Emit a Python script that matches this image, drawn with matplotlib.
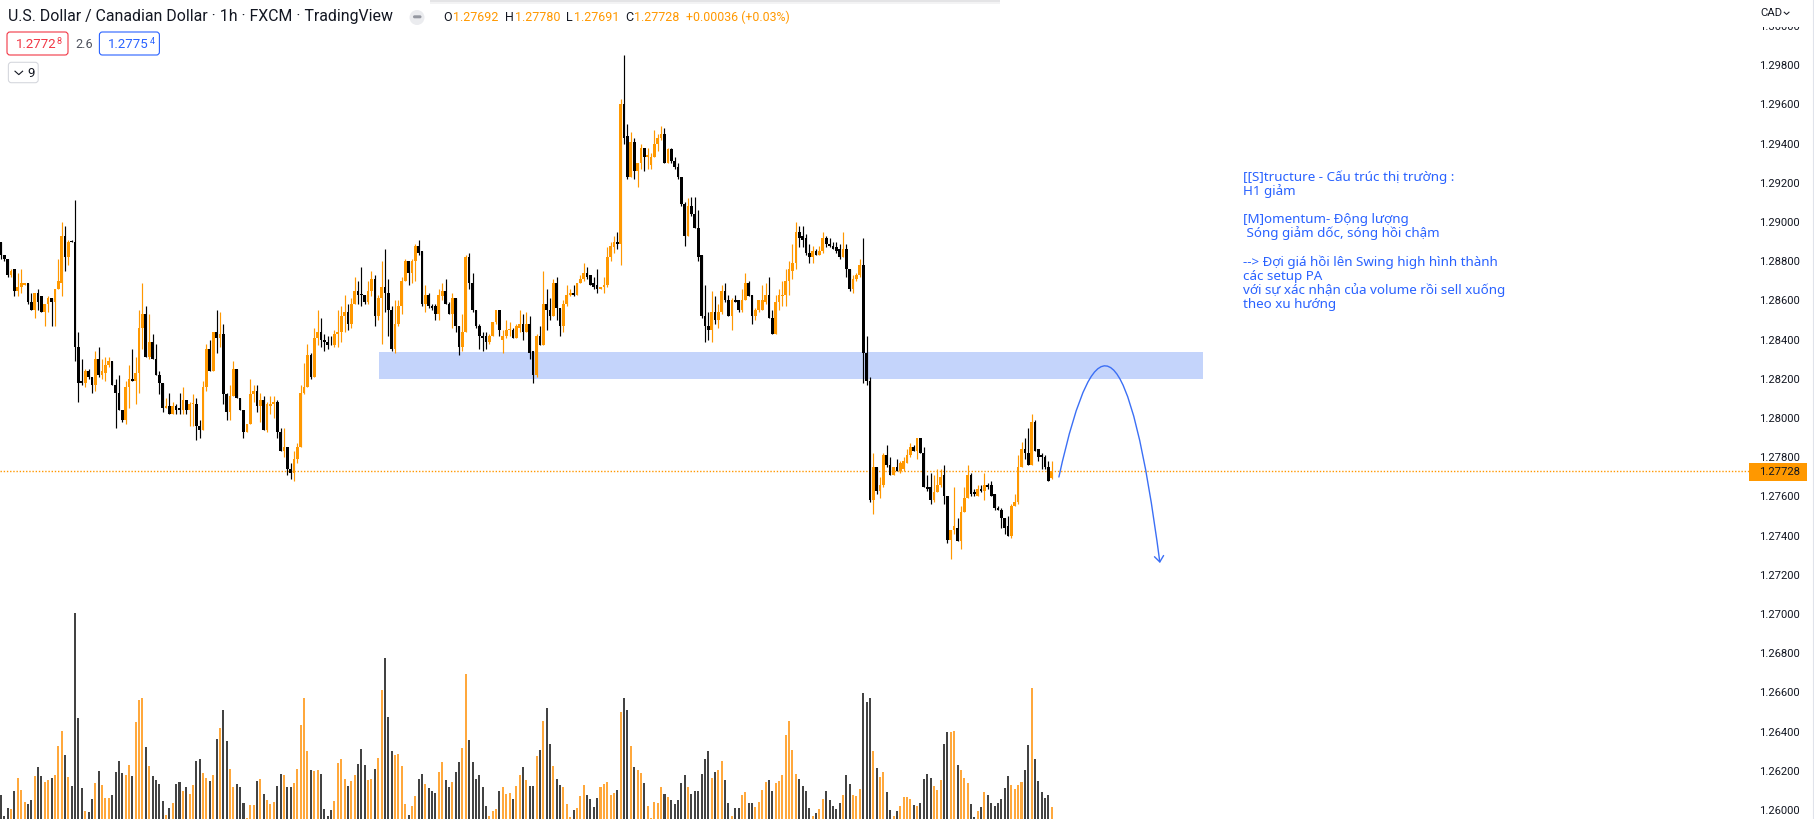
import numpy as np
import matplotlib
matplotlib.use("Agg")
import matplotlib.pyplot as plt
from matplotlib.patches import Rectangle, FancyBboxPatch, FancyArrowPatch, Circle
from matplotlib.path import Path
from matplotlib.transforms import IdentityTransform
from matplotlib.lines import Line2D

plt.rcParams['font.family'] = ['Roboto', 'DejaVu Sans']

# ---------------- data (USD/CAD, 1h, FXCM) ----------------
opens = [
 1.2890, 1.2883, 1.2881, 1.2873, 1.2876, 1.2865, 1.2867, 1.2868, 1.2869, 1.2859,
 1.2855, 1.2864, 1.2862, 1.2854, 1.2858, 1.2861, 1.2859, 1.2866, 1.2869, 1.2893,
 1.2882, 1.28905, 1.2890, 1.2836, 1.2819, 1.2818, 1.2824, 1.2821, 1.2817, 1.2830,
 1.2822, 1.2823, 1.2827, 1.2829, 1.2817, 1.2813, 1.2804, 1.2799, 1.2816, 1.2820,
 1.2819, 1.2823, 1.2846, 1.2853, 1.2831, 1.2839, 1.2830, 1.2822, 1.2818, 1.2805,
 1.2806, 1.2802, 1.2806, 1.2805, 1.2804, 1.2809, 1.2804, 1.2807, 1.2807, 1.2796,
 1.2794, 1.2816, 1.2835, 1.2824, 1.2844, 1.2841, 1.2843, 1.2812, 1.2803, 1.2811,
 1.2825, 1.2810, 1.2804, 1.2793, 1.2797, 1.2812, 1.2814, 1.2806, 1.2809, 1.2794,
 1.2806, 1.2807, 1.2808, 1.2793, 1.2783, 1.2785, 1.2774, 1.2772, 1.2779, 1.2785,
 1.2813, 1.2816, 1.2832, 1.2821, 1.2841, 1.2844, 1.2840, 1.2839, 1.28375, 1.2837,
 1.2843, 1.2844, 1.2852, 1.2854, 1.2848, 1.2858, 1.2865, 1.28635, 1.2863, 1.2859,
 1.2865, 1.2871, 1.2852, 1.2861, 1.2867, 1.2864, 1.2855, 1.2835, 1.2848, 1.2857,
 1.2870, 1.2880, 1.2874, 1.2880, 1.2888, 1.2885, 1.2858, 1.2863, 1.2857, 1.2857,
 1.2853, 1.2862, 1.2865, 1.2858, 1.2853, 1.2861, 1.2847, 1.2836, 1.2844, 1.2882,
 1.2869, 1.2855, 1.2847, 1.2842, 1.2842, 1.2839, 1.2842, 1.2849, 1.2855, 1.2840,
 1.2842, 1.2845, 1.2845, 1.2841, 1.2846, 1.2848, 1.2844, 1.2848, 1.2834, 1.2822,
 1.2842, 1.2837, 1.2858, 1.2855, 1.2852, 1.2869, 1.2856, 1.2847, 1.2858, 1.2863,
 1.2864, 1.2863, 1.2869, 1.2871, 1.2874, 1.2873, 1.2869, 1.2868, 1.2866, 1.2867,
 1.2868, 1.2882, 1.2887, 1.2890, 1.2889, 1.2960, 1.2944, 1.2923, 1.2941, 1.2926,
 1.2930, 1.2938, 1.2933, 1.2929, 1.2933, 1.2940, 1.2943, 1.2945, 1.2930, 1.2937,
 1.2931, 1.2928, 1.2923, 1.2909, 1.2893, 1.2908, 1.2904, 1.2897, 1.2883, 1.2852,
 1.2847, 1.2845, 1.2854, 1.2850, 1.2854, 1.2865, 1.2860, 1.2852, 1.2860, 1.2860,
 1.2855, 1.2860, 1.2869, 1.2863, 1.2852, 1.2855, 1.2855, 1.2859, 1.2863, 1.2851,
 1.2843, 1.2859, 1.2862, 1.2863, 1.2870, 1.2875, 1.2879, 1.2895, 1.2893, 1.2892,
 1.2884, 1.2882, 1.2885, 1.2883, 1.2885, 1.2892, 1.2889, 1.2888, 1.2887, 1.2886,
 1.2882, 1.2886, 1.2876, 1.2866, 1.2871, 1.2873, 1.2878, 1.2833, 1.2819, 1.2758,
 1.2775, 1.2763, 1.2766, 1.2781, 1.2776, 1.2771, 1.2775, 1.2773, 1.2774, 1.2777,
 1.2781, 1.2785, 1.2783, 1.2790, 1.2782, 1.2765, 1.2765, 1.2758, 1.2762, 1.2766,
 1.2771, 1.2760, 1.2738, 1.2743, 1.2744, 1.2737, 1.2752, 1.2759, 1.2771, 1.2762,
 1.2760, 1.2764, 1.2763, 1.2766, 1.2766, 1.2761, 1.2754, 1.2753, 1.2749, 1.2745,
 1.2740, 1.2755, 1.2757, 1.2775, 1.2784, 1.2782, 1.2776, 1.2798, 1.2784, 1.2781,
 1.2780, 1.2775, 1.27692]

highs = [
 1.2890, 1.2883, 1.2881, 1.2876, 1.2876, 1.2874, 1.2876, 1.2869, 1.2869, 1.2864,
 1.2864, 1.2866, 1.2862, 1.2858, 1.2862, 1.2861, 1.2866, 1.2881, 1.2900, 1.2898,
 1.2891, 1.2891, 1.2911, 1.2844, 1.2830, 1.2825, 1.2825, 1.2821, 1.2834, 1.2836,
 1.2830, 1.2831, 1.2831, 1.2829, 1.2820, 1.2822, 1.2804, 1.2819, 1.2827, 1.2835,
 1.2831, 1.2855, 1.2869, 1.2857, 1.2853, 1.2843, 1.2838, 1.2824, 1.2818, 1.2810,
 1.2813, 1.2808, 1.2807, 1.2813, 1.2816, 1.2809, 1.2808, 1.2812, 1.2810, 1.2799,
 1.2819, 1.2838, 1.2840, 1.2844, 1.2855, 1.2854, 1.2848, 1.2813, 1.2817, 1.2829,
 1.2825, 1.2810, 1.2804, 1.2797, 1.2820, 1.2817, 1.2817, 1.2813, 1.2811, 1.2808,
 1.2811, 1.2811, 1.2809, 1.2795, 1.2795, 1.2785, 1.2777, 1.2783, 1.2787, 1.2817,
 1.2828, 1.2838, 1.2833, 1.2846, 1.2855, 1.2851, 1.2843, 1.2842, 1.2842, 1.2845,
 1.2855, 1.2857, 1.2863, 1.2858, 1.2861, 1.2872, 1.2870, 1.2877, 1.2863, 1.2870,
 1.2875, 1.2873, 1.2863, 1.2880, 1.2886, 1.2871, 1.2857, 1.2860, 1.2860, 1.2872,
 1.2881, 1.2880, 1.2881, 1.2889, 1.2891, 1.2885, 1.2868, 1.2864, 1.2858, 1.2858,
 1.2866, 1.2869, 1.2871, 1.2859, 1.2864, 1.2861, 1.2847, 1.2853, 1.2883, 1.2884,
 1.2874, 1.2855, 1.2848, 1.2844, 1.2844, 1.2843, 1.2849, 1.2855, 1.2855, 1.2845,
 1.2850, 1.2849, 1.2846, 1.2848, 1.2855, 1.2853, 1.2854, 1.2852, 1.2834, 1.2843,
 1.2847, 1.2875, 1.2866, 1.2861, 1.2871, 1.2872, 1.2856, 1.2860, 1.2868, 1.2866,
 1.2868, 1.2869, 1.2873, 1.2879, 1.2877, 1.2873, 1.2872, 1.2876, 1.2867, 1.2872,
 1.2887, 1.2890, 1.2893, 1.2895, 1.2963, 1.2985, 1.2950, 1.2946, 1.2943, 1.2930,
 1.2940, 1.2938, 1.2938, 1.2935, 1.2947, 1.2945, 1.2949, 1.2948, 1.2938, 1.2938,
 1.2933, 1.2930, 1.2923, 1.2910, 1.2912, 1.2913, 1.2913, 1.2906, 1.2883, 1.2868,
 1.2854, 1.2865, 1.2862, 1.2858, 1.2868, 1.2869, 1.2863, 1.2861, 1.2863, 1.2860,
 1.2866, 1.2874, 1.2870, 1.2863, 1.2856, 1.2860, 1.2868, 1.2869, 1.2872, 1.2855,
 1.2863, 1.2866, 1.2870, 1.2876, 1.2880, 1.2889, 1.2900, 1.2898, 1.2898, 1.2894,
 1.2889, 1.2888, 1.2886, 1.2888, 1.2895, 1.2893, 1.2892, 1.2890, 1.2890, 1.2889,
 1.2895, 1.2889, 1.2876, 1.2873, 1.2874, 1.2881, 1.2892, 1.2842, 1.2821, 1.2782,
 1.2775, 1.2770, 1.2782, 1.2786, 1.2780, 1.2775, 1.2779, 1.2778, 1.2780, 1.2784,
 1.2787, 1.2786, 1.2790, 1.2790, 1.2785, 1.2771, 1.2772, 1.2771, 1.2774, 1.2774,
 1.2776, 1.2760, 1.2743, 1.2765, 1.2749, 1.2755, 1.2765, 1.2776, 1.2772, 1.2764,
 1.2766, 1.2766, 1.2772, 1.2767, 1.2768, 1.2761, 1.2755, 1.2754, 1.2749, 1.2750,
 1.2756, 1.2761, 1.2781, 1.2788, 1.2790, 1.2795, 1.2802, 1.2799, 1.2784, 1.2782,
 1.2781, 1.2778, 1.27780]

lows = [
 1.2881, 1.2880, 1.2872, 1.2872, 1.2862, 1.2862, 1.2864, 1.2868, 1.2858, 1.2855,
 1.2851, 1.2855, 1.2854, 1.2847, 1.2854, 1.2847, 1.2847, 1.2866, 1.2862, 1.2875,
 1.2878, 1.2890, 1.2829, 1.2808, 1.2817, 1.2816, 1.2820, 1.2813, 1.2814, 1.2821,
 1.2820, 1.2819, 1.2826, 1.2817, 1.2795, 1.2804, 1.2798, 1.2797, 1.2805, 1.2819,
 1.2807, 1.2813, 1.2835, 1.2831, 1.2830, 1.2830, 1.2822, 1.2812, 1.2803, 1.2805,
 1.2802, 1.2802, 1.2802, 1.2802, 1.2802, 1.2802, 1.2796, 1.2796, 1.2789, 1.2790,
 1.2794, 1.2814, 1.2824, 1.2824, 1.2833, 1.2836, 1.2807, 1.2799, 1.2799, 1.2811,
 1.2810, 1.2804, 1.2790, 1.2793, 1.2797, 1.2808, 1.2803, 1.2798, 1.2794, 1.2793,
 1.2802, 1.2800, 1.2790, 1.2783, 1.2780, 1.2771, 1.2769, 1.2768, 1.2777, 1.2785,
 1.2812, 1.2816, 1.2820, 1.2821, 1.2837, 1.2836, 1.2834, 1.2835, 1.2837, 1.2836,
 1.2836, 1.2839, 1.2844, 1.2845, 1.2846, 1.2858, 1.2858, 1.2857, 1.2858, 1.2858,
 1.2862, 1.2847, 1.2850, 1.2838, 1.2854, 1.2842, 1.2834, 1.2833, 1.2847, 1.2853,
 1.2870, 1.2868, 1.2869, 1.2870, 1.2883, 1.2857, 1.2854, 1.2856, 1.2855, 1.2850,
 1.2850, 1.2860, 1.2858, 1.2853, 1.2846, 1.2844, 1.2832, 1.2834, 1.2844, 1.2866,
 1.2854, 1.2846, 1.2835, 1.2834, 1.2835, 1.2838, 1.2842, 1.2848, 1.2842, 1.2833,
 1.2841, 1.2842, 1.2841, 1.2841, 1.2844, 1.2840, 1.2844, 1.2830, 1.2818, 1.2821,
 1.2837, 1.2837, 1.2845, 1.2850, 1.2852, 1.2850, 1.2842, 1.2844, 1.2857, 1.2862,
 1.2862, 1.2863, 1.2869, 1.2870, 1.2871, 1.2868, 1.2866, 1.2864, 1.2866, 1.2864,
 1.2867, 1.2880, 1.2884, 1.2886, 1.2878, 1.2940, 1.2922, 1.2923, 1.2922, 1.2918,
 1.2927, 1.2926, 1.2927, 1.2927, 1.2933, 1.2936, 1.2942, 1.2930, 1.2930, 1.2930,
 1.2927, 1.2922, 1.2908, 1.2888, 1.2893, 1.2903, 1.2897, 1.2880, 1.2851, 1.2839,
 1.2840, 1.2839, 1.2848, 1.2846, 1.2853, 1.2859, 1.2852, 1.2845, 1.2859, 1.2854,
 1.2854, 1.2860, 1.2862, 1.2848, 1.2850, 1.2854, 1.2855, 1.2858, 1.2851, 1.2843,
 1.2843, 1.2855, 1.2857, 1.2857, 1.2863, 1.2871, 1.2876, 1.2887, 1.2887, 1.2883,
 1.2879, 1.2879, 1.2883, 1.2883, 1.2884, 1.2887, 1.2887, 1.2886, 1.2884, 1.2881,
 1.2882, 1.2872, 1.2865, 1.2864, 1.2870, 1.2872, 1.2818, 1.2817, 1.2757, 1.2751,
 1.2761, 1.2759, 1.2765, 1.2775, 1.2771, 1.2771, 1.2773, 1.2772, 1.2773, 1.2777,
 1.2780, 1.2783, 1.2779, 1.2782, 1.2765, 1.2763, 1.2756, 1.2757, 1.2762, 1.2765,
 1.2756, 1.2736, 1.2728, 1.2741, 1.2737, 1.2733, 1.2752, 1.2759, 1.2760, 1.2760,
 1.2760, 1.2762, 1.2758, 1.2764, 1.2760, 1.2753, 1.2753, 1.2744, 1.2741, 1.2740,
 1.2739, 1.2755, 1.2756, 1.2775, 1.2779, 1.2776, 1.2776, 1.2783, 1.2778, 1.2774,
 1.2774, 1.2768, 1.27691]

closes = [
 1.2883, 1.2881, 1.2873, 1.2875, 1.2865, 1.2867, 1.2869, 1.2869, 1.2859, 1.2855,
 1.2864, 1.2859, 1.2854, 1.2858, 1.2861, 1.2859, 1.2866, 1.2870, 1.2893, 1.2882,
 1.2890, 1.2890, 1.2836, 1.2818, 1.2818, 1.2824, 1.2821, 1.2817, 1.2830, 1.2822,
 1.2824, 1.2827, 1.2829, 1.2817, 1.2813, 1.2804, 1.2799, 1.2816, 1.2820, 1.2819,
 1.2823, 1.2846, 1.2853, 1.2831, 1.2839, 1.2830, 1.2822, 1.2818, 1.2805, 1.2806,
 1.2802, 1.2806, 1.2804, 1.2804, 1.2809, 1.2804, 1.2807, 1.28075, 1.2796, 1.2794,
 1.2816, 1.2835, 1.2824, 1.2844, 1.2841, 1.2843, 1.2812, 1.2803, 1.2811, 1.2825,
 1.2810, 1.2804, 1.2793, 1.2797, 1.2812, 1.2814, 1.2806, 1.2809, 1.2794, 1.2807,
 1.2807, 1.2808, 1.2793, 1.2783, 1.2785, 1.2774, 1.2772, 1.2779, 1.2785, 1.2813,
 1.2816, 1.2832, 1.2821, 1.2841, 1.2844, 1.2840, 1.2839, 1.2837, 1.2837, 1.2843,
 1.2844, 1.2852, 1.2854, 1.2848, 1.2858, 1.2865, 1.2863, 1.2863, 1.2859, 1.2865,
 1.2871, 1.2852, 1.2861, 1.2867, 1.2864, 1.2855, 1.2835, 1.2848, 1.2857, 1.2870,
 1.2880, 1.2874, 1.2880, 1.2888, 1.2884, 1.2858, 1.2863, 1.2857, 1.2856, 1.2853,
 1.2863, 1.2865, 1.2858, 1.2853, 1.2861, 1.2847, 1.2836, 1.2844, 1.2882, 1.2869,
 1.2855, 1.2847, 1.2842, 1.2841, 1.2839, 1.2842, 1.2849, 1.2855, 1.2845, 1.2842,
 1.2845, 1.28455, 1.2841, 1.2847, 1.2848, 1.2844, 1.2848, 1.2833, 1.2822, 1.2842,
 1.2837, 1.2858, 1.2855, 1.2852, 1.2869, 1.2856, 1.2847, 1.2858, 1.2863, 1.2864,
 1.2863, 1.2869, 1.2871, 1.2874, 1.2872, 1.2868, 1.2867, 1.2866, 1.2867, 1.2868,
 1.2882, 1.2888, 1.2890, 1.2889, 1.2960, 1.2943, 1.2923, 1.2941, 1.2926, 1.2930,
 1.2938, 1.2933, 1.2934, 1.2933, 1.2940, 1.2943, 1.2945, 1.2930, 1.2937, 1.2931,
 1.2928, 1.2923, 1.2909, 1.2893, 1.2908, 1.2904, 1.2897, 1.2882, 1.2852, 1.2847,
 1.2845, 1.2854, 1.2850, 1.2854, 1.2865, 1.2860, 1.2852, 1.2860, 1.2859, 1.2855,
 1.2860, 1.2869, 1.2862, 1.2852, 1.2855, 1.2860, 1.2860, 1.2863, 1.2851, 1.2843,
 1.2859, 1.2863, 1.2863, 1.2870, 1.2876, 1.2879, 1.2895, 1.2892, 1.2891, 1.2884,
 1.2882, 1.2885, 1.2883, 1.2885, 1.2892, 1.2889, 1.2888, 1.2886, 1.2885, 1.2882,
 1.2886, 1.2876, 1.2866, 1.2871, 1.2873, 1.2878, 1.2833, 1.2819, 1.2758, 1.2775,
 1.2763, 1.2766, 1.2781, 1.2776, 1.2771, 1.2775, 1.2773, 1.2777, 1.2778, 1.2781,
 1.2785, 1.2783, 1.2790, 1.2782, 1.2765, 1.2764, 1.2758, 1.2762, 1.2766, 1.2770,
 1.2760, 1.2738, 1.2743, 1.2745, 1.2737, 1.2752, 1.2759, 1.2771, 1.2761, 1.2761,
 1.2764, 1.2763, 1.2766, 1.2765, 1.2760, 1.2754, 1.2753, 1.2749, 1.2744, 1.2740,
 1.2755, 1.2757, 1.2775, 1.2784, 1.2782, 1.2776, 1.2798, 1.2783, 1.2780, 1.2780,
 1.2775, 1.2768, 1.27728]

volumes = [
 72, 8, 32, 29, 83, 122, 86, 50, 44, 56,
 128, 155, 128, 110, 116, 122, 131, 218, 260, 191,
 125, 98, 612, 299, 92, 23, 20, 59, 107, 143,
 101, 62, 62, 71, 140, 173, 137, 131, 161, 128,
 287, 353, 359, 215, 158, 128, 116, 104, 53, 11,
 32, 47, 104, 110, 83, 95, 74, 101, 173, 179,
 137, 122, 113, 131, 239, 269, 323, 233, 149, 95,
 104, 95, 47, 2, 41, 41, 113, 119, 74, 56,
 44, 50, 98, 134, 131, 95, 95, 107, 149, 278,
 359, 203, 146, 143, 146, 134, 29, 8, 26, 53,
 167, 179, 119, 98, 113, 131, 164, 209, 161, 116,
 119, 149, 182, 383, 479, 302, 203, 191, 194, 158,
 44, 11, 38, 68, 119, 134, 104, 92, 83, 77,
 140, 170, 116, 95, 110, 140, 170, 212, 431, 236,
 170, 119, 131, 95, 38, 8, 23, 29, 83, 95,
 74, 77, 59, 98, 131, 155, 116, 98, 98, 188,
 206, 290, 329, 224, 158, 119, 101, 95, 44, 5,
 26, 32, 68, 101, 71, 59, 35, 62, 95, 104,
 110, 71, 77, 86, 317, 359, 323, 218, 155, 146,
 137, 107, 38, 2, 50, 47, 95, 74, 65, 56,
 44, 56, 107, 131, 95, 74, 83, 83, 134, 179,
 203, 122, 140, 146, 173, 116, 47, 8, 32, 32,
 71, 80, 47, 47, 35, 50, 86, 110, 116, 83,
 107, 113, 131, 251, 290, 206, 134, 119, 98, 83,
 32, 8, 17, 29, 59, 83, 56, 38, 29, 47,
 71, 131, 104, 71, 68, 89, 374, 347, 359, 203,
 152, 125, 140, 80, 26, 8, 23, 38, 65, 65,
 59, 41, 38, 47, 119, 134, 122, 98, 86, 116,
 224, 257, 257, 260, 161, 146, 122, 107, 44, 5,
 23, 35, 80, 71, 47, 38, 47, 59, 92, 128,
 101, 89, 101, 110, 146, 221, 389, 179, 113, 80,
 62, 71, 35]

price_ticks = [1.260, 1.262, 1.264, 1.266, 1.268, 1.270, 1.272, 1.274, 1.276,
               1.278, 1.280, 1.282, 1.284, 1.286, 1.288, 1.290, 1.292, 1.294,
               1.296, 1.298, 1.300]
price_tick_labels = ["1.26000", "1.26200", "1.26400", "1.26600", "1.26800",
                     "1.27000", "1.27200", "1.27400", "1.27600", "1.27800",
                     "1.28000", "1.28200", "1.28400", "1.28600", "1.28800",
                     "1.29000", "1.29200", "1.29400", "1.29600", "1.29800",
                     "1.30000"]

last_price = 1.27728
last_price_label = "1.27728"
zone_low, zone_high = 1.28199, 1.28337          # blue support / resistance zone
zone_start_bar, zone_end_bar = 112.2, 356.9
arc_bars = [314.1, 330.8, 344.1]                 # projected path (bar index)
arc_prices = [1.27699, 1.29020, 1.27260]

title_text = "U.S. Dollar / Canadian Dollar \u00b7 1h \u00b7 FXCM \u00b7 TradingView"
ohlc_letters = ["O", "H", "L", "C"]
ohlc_values = ["1.27692", "1.27780", "1.27691", "1.27728"]
change_text = "+0.00036 (+0.03%)"
bid_text, bid_sup = "1.2772", "8"
spread_text = "2.6"
ask_text, ask_sup = "1.2775", "4"
indicator_count = "9"
currency_text = "CAD"

note_lines = [
    "[[S]tructure - C\u1ea5u tr\u00fac th\u1ecb tr\u01b0\u1eddng :",
    "H1 gi\u1ea3m",
    "",
    "[M]omentum- \u0110\u1ed9ng l\u01b0\u1ee3ng",
    " S\u00f3ng gi\u1ea3m d\u1ed1c, s\u00f3ng h\u1ed3i ch\u1eadm",
    "",
    "--> \u0110\u1ee3i gi\u00e1 h\u1ed3i l\u00ean Swing high h\u00ecnh th\u00e0nh",
    "c\u00e1c setup PA",
    "v\u1edbi s\u1ef1 x\u00e1c nh\u1eadn c\u1ee7a volume r\u1ed3i sell xu\u1ed1ng",
    "theo xu h\u01b0\u1edbng",
]

# ---------------- styling / layout ----------------
W, H, DPI = 1814, 819, 100
UP = "#ff9800"
DOWN = "#000000"
VOL_UP = "#ffa83c"
VOL_DOWN = "#434343"
TEXT = "#131722"
BLUE = "#2962ff"
ZONE = "#c4d4fb"

fig = plt.figure(figsize=(W / DPI, H / DPI), dpi=DPI, facecolor="white")
PX = IdentityTransform()
renderer = fig.canvas.get_renderer()


def Y(y):
    return H - y


def fit(t, width):
    w = t.get_window_extent(renderer).width
    t.set_fontsize(t.get_fontsize() * width / w)
    return t


def right_edge(t):
    return t.get_window_extent(renderer).x1


AX_RIGHT = 1752
STEP = 3.368
rect = [0, 0, AX_RIGHT / W, 1]
axv = fig.add_axes(rect)
ax = fig.add_axes(rect, sharex=axv)
ax.patch.set_visible(False)
for a in (ax, axv):
    for s in a.spines.values():
        s.set_visible(False)
axv.tick_params(left=False, labelleft=False, bottom=False, labelbottom=False)
ax.tick_params(bottom=False, labelbottom=False)

n = min(len(opens), len(highs), len(lows), len(closes), len(volumes))
o = np.array(opens[:n]); h = np.array(highs[:n]); l = np.array(lows[:n]); c = np.array(closes[:n])
v = np.array(volumes[:n])
idx = np.arange(n)
up = c >= o
colors = np.where(up, UP, DOWN)

axv.set_xlim(-1 / STEP, (AX_RIGHT - 1) / STEP)
axv.set_ylim(0, v.max() * H / 206.0)
ax.set_ylim(1.259541, 1.301327)

# volume
axv.bar(idx, v, width=0.6, color=np.where(up, VOL_UP, VOL_DOWN), linewidth=0)

# zone
ax.add_patch(Rectangle((zone_start_bar, zone_low), zone_end_bar - zone_start_bar,
                       zone_high - zone_low, facecolor=ZONE, edgecolor="none", zorder=1))
# last price line
ax.axhline(last_price, color=UP, lw=1.0, ls=(0, (1.0, 1.3)), zorder=1.5)

# candles
ax.vlines(idx, l, h, colors=colors, linewidth=0.85, zorder=2)
body_lo = np.minimum(o, c)
body_h = np.maximum(np.abs(c - o), 0.00005)
ax.bar(idx, body_h, bottom=body_lo, width=0.8, color=colors, linewidth=0, zorder=3)

# projected arc
arc_path = Path(list(zip(arc_bars, arc_prices)), [Path.MOVETO, Path.CURVE3, Path.CURVE3])
arc = FancyArrowPatch(path=arc_path, arrowstyle="->,head_length=0.7,head_width=0.55",
                      mutation_scale=6, color="#3b6ff5", lw=1.0, transform=ax.transData,
                      zorder=4)
ax.add_patch(arc)

# price axis labels
ax.yaxis.tick_right()
ax.set_yticks(price_ticks)
ax.set_yticklabels(price_tick_labels)
probe = fig.text(0, 0, "1.29800", fontsize=8, family="Roboto", transform=PX)
fit(probe, 41)
AXFS = probe.get_fontsize()
probe.remove()
ax.tick_params(axis="y", length=0, pad=7 * 72 / DPI, labelsize=AXFS, labelcolor=TEXT)

# right border
fig.add_artist(Line2D([1812.5, 1812.5], [0, H], transform=PX, color="#e0e3eb", lw=0.8))
# cover above top label + currency selector
fig.add_artist(Rectangle((1753, Y(26.5)), 59, 26.5, transform=PX, facecolor="white",
                         edgecolor="none", zorder=5))
fig.text(1760, Y(16.5), currency_text, transform=PX, color=TEXT, family="Roboto",
         fontsize=AXFS, va="baseline", zorder=6)
fig.add_artist(Line2D([1784.2, 1786.6, 1789.0], [Y(12.2), Y(14.4), Y(12.2)], transform=PX,
                      color=TEXT, lw=0.75, zorder=6))

# last price label
fig.add_artist(Rectangle((1749, Y(481)), 58, 18, transform=PX, facecolor=UP,
                         edgecolor="none", zorder=5))
fig.text(1759.3, Y(472), last_price_label, transform=PX, color=TEXT, family="Roboto",
         fontsize=AXFS, va="center", zorder=6)

# faint shadow of a toolbar popup at the very top
fig.add_artist(Rectangle((430, Y(2.2)), 570, 2.2, transform=PX, facecolor="#e4e4e6",
                         edgecolor="none", zorder=6))
fig.add_artist(Rectangle((430, Y(4.0)), 570, 1.8, transform=PX, facecolor="#f3f3f4",
                         edgecolor="none", zorder=6))

# ---------------- header ----------------
t = fig.text(8, Y(21), title_text, transform=PX, color=TEXT, fontsize=10, va="baseline")
fit(t, 385)
fig.add_artist(Circle((417, Y(17.5)), 7.5, transform=PX, facecolor="#ebecef", edgecolor="none"))
fig.add_artist(FancyBboxPatch((413, Y(18.3)), 8.5, 3.0, boxstyle="round,pad=0,rounding_size=1.5",
                              transform=PX, facecolor="#9598a1", edgecolor="none"))
letter_x = [443.5, 505, 566, 625.5]
value_x = [453, 515, 574, 634]
probe = fig.text(0, 0, ohlc_values[0], fontsize=9, transform=PX)
fit(probe, 45.5)
HFS = probe.get_fontsize()
probe.remove()
for lx, vx, ls_, vs in zip(letter_x, value_x, ohlc_letters, ohlc_values):
    fig.text(lx, Y(21), ls_, transform=PX, color=TEXT, fontsize=HFS, va="baseline")
    fig.text(vx, Y(21), vs, transform=PX, color=UP, fontsize=HFS, va="baseline")
t = fig.text(685.7, Y(21), change_text, transform=PX, color=UP, fontsize=HFS, va="baseline")
fit(t, 105)

# bid / ask boxes
fig.add_artist(FancyBboxPatch((7, Y(55)), 61, 23, boxstyle="round,pad=0,rounding_size=3",
                              transform=PX, facecolor="white", edgecolor="#f23645", lw=0.8))
fig.add_artist(FancyBboxPatch((99.4, Y(55)), 60, 23, boxstyle="round,pad=0,rounding_size=3",
                              transform=PX, facecolor="white", edgecolor=BLUE, lw=0.8))
fig.add_artist(FancyBboxPatch((8.4, Y(82.7)), 29.8, 20.4, boxstyle="round,pad=0,rounding_size=3",
                              transform=PX, facecolor="white", edgecolor="#d6d8de", lw=0.8))
t = fig.text(15.5, Y(47.7), bid_text, transform=PX, color="#f23645", fontsize=9, va="baseline")
fit(t, 40.5)
BFS = t.get_fontsize()
fig.text(right_edge(t) + 0.6, Y(44.0), bid_sup, transform=PX, color="#f23645",
         fontsize=BFS * 0.68, va="baseline")
fig.text(75.8, Y(47.7), spread_text, transform=PX, color="#50535e", fontsize=BFS * 0.95, va="baseline")
t = fig.text(108.0, Y(47.7), ask_text, transform=PX, color=BLUE, fontsize=BFS, va="baseline")
fig.text(right_edge(t) + 0.6, Y(44.0), ask_sup, transform=PX, color=BLUE,
         fontsize=BFS * 0.68, va="baseline")
fig.add_artist(Line2D([15.0, 18.8, 22.6], [Y(71.2), Y(74.6), Y(71.2)], transform=PX,
                      color=TEXT, lw=0.8))
fig.text(27.7, Y(76.7), indicator_count, transform=PX, color=TEXT, fontsize=BFS, va="baseline")

# ---------------- annotation text ----------------
NOTE_FAMILY = ["Noto Sans", "DejaVu Sans"]
probe = fig.text(0, 0, note_lines[8], fontsize=9, family=NOTE_FAMILY, transform=PX)
fit(probe, 263)
NFS = probe.get_fontsize()
probe.remove()
for k, line in enumerate(note_lines):
    if line:
        fig.text(1242.7, Y(181 + 14.1 * k), line, transform=PX, color=BLUE, fontsize=NFS,
                 family=NOTE_FAMILY, va="baseline")

fig.savefig("out.png", dpi=DPI, facecolor="white")
print(n, AXFS, HFS, BFS, NFS)
